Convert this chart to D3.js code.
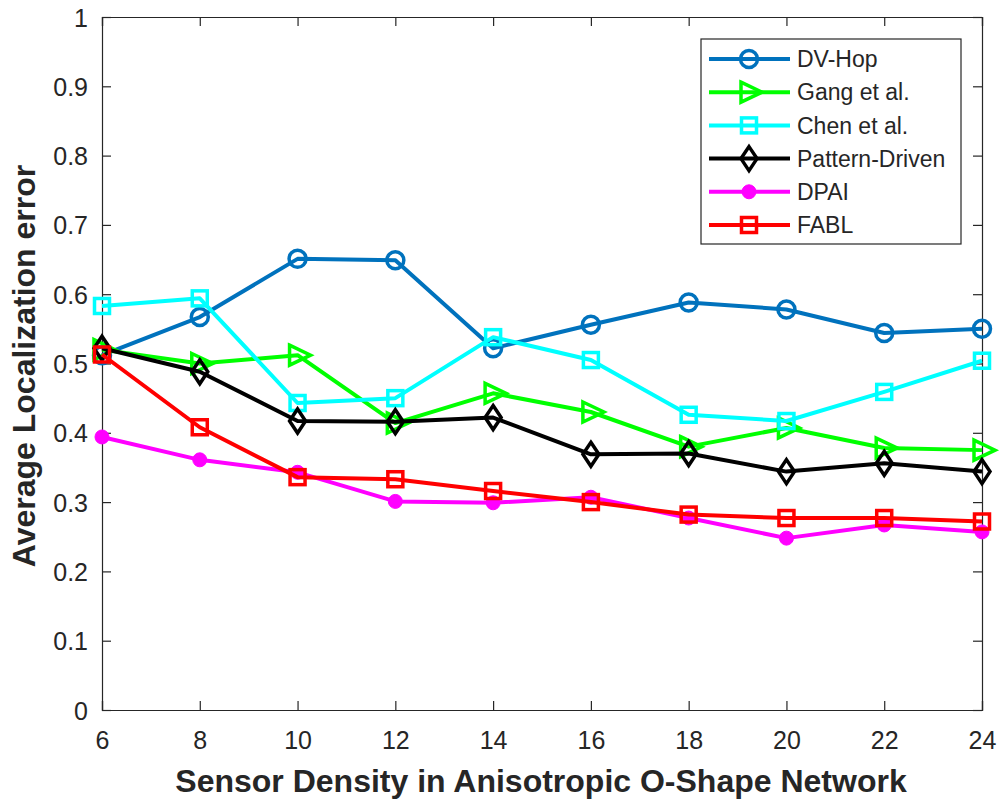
<!DOCTYPE html>
<html><head><meta charset="utf-8">
<script src="https://d3js.org/d3.v7.min.js"></script>
<style>body{margin:0;background:#fff;} svg{display:block;font-family:"Liberation Sans",Arial,sans-serif;}</style>
</head><body>
<script>
const xValues = [6, 8, 10, 12, 14, 16, 18, 20, 22, 24];
const dvHop = [0.512, 0.567, 0.651, 0.649, 0.522, 0.556, 0.588, 0.578, 0.544, 0.550];
const gang = [0.520, 0.500, 0.512, 0.414, 0.457, 0.430, 0.380, 0.407, 0.378, 0.375];
const chen = [0.583, 0.594, 0.443, 0.450, 0.538, 0.505, 0.426, 0.417, 0.459, 0.504];
const pattern = [0.522, 0.488, 0.417, 0.416, 0.422, 0.369, 0.370, 0.344, 0.356, 0.344];
const dpai = [0.394, 0.361, 0.343, 0.301, 0.299, 0.307, 0.277, 0.248, 0.267, 0.257];
const fabl = [0.513, 0.408, 0.336, 0.333, 0.316, 0.300, 0.282, 0.277, 0.277, 0.272];
const seriesNames = ["DV-Hop", "Gang et al.", "Chen et al.", "Pattern-Driven", "DPAI", "FABL"];
const xTicks = [6, 8, 10, 12, 14, 16, 18, 20, 22, 24];
const yTicks = [0, 0.1, 0.2, 0.3, 0.4, 0.5, 0.6, 0.7, 0.8, 0.9, 1];

const series = [
  {name: seriesNames[0], values: dvHop, color: "#0072BD", marker: "circle"},
  {name: seriesNames[1], values: gang, color: "#00FF00", marker: "triangle"},
  {name: seriesNames[2], values: chen, color: "#00FFFF", marker: "square"},
  {name: seriesNames[3], values: pattern, color: "#000000", marker: "diamond"},
  {name: seriesNames[4], values: dpai, color: "#FF00FF", marker: "dot"},
  {name: seriesNames[5], values: fabl, color: "#FF0000", marker: "square"}
];

const W = 1000, H = 800;
const L = 102, R = 982, T = 17, B = 710;
const svg = d3.select("body").append("svg").attr("width", W).attr("height", H);
const x = d3.scaleLinear().domain([6, 24]).range([L, R]);
const y = d3.scaleLinear().domain([0, 1]).range([B, T]);
const axisColor = "#262626";

// axes
const gx = svg.append("g").attr("transform", `translate(0,${B})`)
  .call(d3.axisBottom(x).tickValues(xTicks).tickSize(-9).tickPadding(21).tickFormat(d3.format("d")));
const gy = svg.append("g").attr("transform", `translate(${L},0)`)
  .call(d3.axisLeft(y).tickValues(yTicks).tickSize(-9).tickPadding(14).tickFormat(d => d === 0 ? "0" : d === 1 ? "1" : d3.format(".1f")(d)));
const gt = svg.append("g").attr("transform", `translate(0,${T})`)
  .call(d3.axisTop(x).tickValues(xTicks).tickSize(-9).tickFormat(""));
const gr = svg.append("g").attr("transform", `translate(${R},0)`)
  .call(d3.axisRight(y).tickValues(yTicks).tickSize(-9).tickFormat(""));
[gx, gy, gt, gr].forEach(g => {
  g.selectAll("path").attr("stroke", axisColor).attr("stroke-width", 1.2);
  g.selectAll("line").attr("stroke", axisColor).attr("stroke-width", 1.2);
  g.selectAll("text").attr("fill", axisColor).style("font-size", "25px").style("font-family", "Liberation Sans, Arial, sans-serif");
});
gy.selectAll(".tick text").attr("dy", "0.36em");

// lines
const line = d3.line().x((d, i) => x(xValues[i])).y(d => y(d));

function drawMarker(g, type, cx, cy, color) {
  if (type === "circle") {
    g.append("circle").attr("cx", cx).attr("cy", cy).attr("r", 8.5)
      .attr("fill", "none").attr("stroke", color).attr("stroke-width", 3.5);
  } else if (type === "dot") {
    g.append("circle").attr("cx", cx).attr("cy", cy).attr("r", 7)
      .attr("fill", color).attr("stroke", color).attr("stroke-width", 1);
  } else if (type === "square") {
    g.append("rect").attr("x", cx - 7.5).attr("y", cy - 7.5).attr("width", 15).attr("height", 15)
      .attr("fill", "none").attr("stroke", color).attr("stroke-width", 3.5);
  } else if (type === "triangle") {
    g.append("path").attr("d", `M${cx - 8},${cy - 10}L${cx + 13},${cy}L${cx - 8},${cy + 10}Z`)
      .attr("fill", "none").attr("stroke", color).attr("stroke-width", 3.5).attr("stroke-linejoin", "miter");
  } else if (type === "diamond") {
    g.append("path").attr("d", `M${cx},${cy - 12}L${cx + 8},${cy}L${cx},${cy + 12}L${cx - 8},${cy}Z`)
      .attr("fill", "none").attr("stroke", color).attr("stroke-width", 3.5);
  }
}

series.forEach(s => {
  const g = svg.append("g");
  g.append("path").datum(s.values).attr("d", line)
    .attr("fill", "none").attr("stroke", s.color).attr("stroke-width", 4).attr("stroke-linejoin", "round");
  s.values.forEach((v, i) => drawMarker(g, s.marker, x(xValues[i]), y(v), s.color));
});

// legend
const lg = svg.append("g");
lg.append("rect").attr("x", 701).attr("y", 39).attr("width", 260).attr("height", 205)
  .attr("fill", "#fff").attr("stroke", axisColor).attr("stroke-width", 1.2);
const legY = d3.scalePoint().domain(seriesNames).range([59, 225]);
series.forEach(s => {
  const yy = legY(s.name);
  lg.append("line").attr("x1", 709).attr("x2", 790).attr("y1", yy).attr("y2", yy)
    .attr("stroke", s.color).attr("stroke-width", 4);
  drawMarker(lg, s.marker, 749, yy, s.color);
  lg.append("text").attr("x", 797).attr("y", yy).attr("dy", "0.36em")
    .attr("fill", axisColor).style("font-size", "23px").text(s.name);
});

// axis titles
svg.append("text").attr("x", 541).attr("y", 792).attr("text-anchor", "middle")
  .attr("fill", axisColor).style("font-size", "32px").style("font-weight", "bold")
  .text("Sensor Density in Anisotropic O-Shape Network");
svg.append("text").attr("transform", `translate(35,366) rotate(-90)`).attr("text-anchor", "middle")
  .attr("fill", axisColor).style("font-size", "32px").style("font-weight", "bold")
  .text("Average Localization error");
</script>
</body></html>
